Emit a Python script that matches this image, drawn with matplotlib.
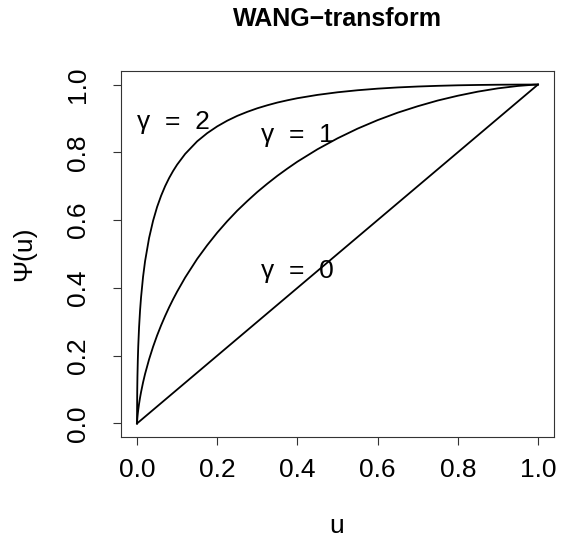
import matplotlib
matplotlib.use("Agg")
import matplotlib.pyplot as plt

plt.rcParams['font.family'] = ['Liberation Sans', 'DejaVu Sans']

u = [0, 0.0001, 0.0005, 0.001, 0.002, 0.003, 0.005, 0.0075, 0.01, 0.015, 0.02, 0.03,
     0.04, 0.05, 0.06, 0.07, 0.08, 0.09, 0.1, 0.12, 0.15, 0.175, 0.2, 0.225, 0.25,
     0.275, 0.3, 0.325, 0.35, 0.375, 0.4, 0.45, 0.5, 0.55, 0.6, 0.65, 0.7, 0.75, 0.8,
     0.85, 0.9, 0.95, 0.99, 1]
psi_g0 = list(u)
psi_g1 = [0, 0.0033, 0.011, 0.0183, 0.0302, 0.0402, 0.0575, 0.0761, 0.0924, 0.1210,
          0.146, 0.189, 0.2263, 0.2595, 0.2894, 0.317, 0.3427, 0.3666, 0.389, 0.4305,
          0.4856, 0.5259, 0.563, 0.5968, 0.628, 0.6562, 0.683, 0.7075, 0.7307, 0.7521,
          0.7725, 0.809, 0.8413, 0.8699, 0.895, 0.9170, 0.936, 0.9529, 0.967, 0.9791,
          0.9888, 0.9959, 0.9996, 1]
psi_g2 = [0, 0.0428, 0.0984, 0.1379, 0.190, 0.2272, 0.2823, 0.3329, 0.372, 0.4325,
          0.4785, 0.547, 0.598, 0.6387, 0.6718, 0.700, 0.7241, 0.7451, 0.7637, 0.7953,
          0.8325, 0.8566, 0.8766, 0.8934, 0.9076, 0.9195, 0.930, 0.9389, 0.9469, 0.9536,
          0.9597, 0.9695, 0.9772, 0.9832, 0.9879, 0.9915, 0.9942, 0.99625, 0.9978, 0.9988,
          0.9995, 0.9999, 1.0, 1]
labels = ["γ  =  2", "γ  =  1", "γ  =  0"]
label_pos = [(0.09, 0.89), (0.4, 0.85), (0.4, 0.45)]
ticks = [0.0, 0.2, 0.4, 0.6, 0.8, 1.0]
tick_labels = ["0.0", "0.2", "0.4", "0.6", "0.8", "1.0"]

W, H = 568, 541
fig = plt.figure(figsize=(W / 100, H / 100), dpi=100)
ax = fig.add_axes([121 / W, 104 / H, 433 / W, 366 / H])

for ys in (psi_g0, psi_g1, psi_g2):
    ax.plot(u, ys, color='black', lw=1.3, solid_joinstyle='round')

for lab, (x, y) in zip(labels, label_pos):
    ax.text(x, y, lab, fontsize=19, ha='center', va='center')

ax.set_xlim(-0.04, 1.04)
ax.set_ylim(-0.04, 1.04)
ax.set_xticks(ticks)
ax.set_xticklabels(tick_labels)
ax.set_yticks(ticks)
ax.set_yticklabels(tick_labels, rotation=90, va='center')
ax.tick_params(labelsize=19, length=6, width=0.8, color='#333333')
ax.tick_params(axis='x', pad=9)
ax.tick_params(axis='y', pad=16)
for s in ax.spines.values():
    s.set_linewidth(0.8)
    s.set_color('#333333')

fig.text(337 / W, 1 - 526 / H, "u", fontsize=19, ha='center', va='center')
fig.text(24 / W, 1 - 254 / H, "Ψ(u)", fontsize=19, ha='center', va='center', rotation=90)
fig.text(337 / W, 1 - 19 / H, "WANG\u2212transform", fontsize=18, fontweight='bold',
         ha='center', va='center')

fig.savefig("out.png", dpi=100)
